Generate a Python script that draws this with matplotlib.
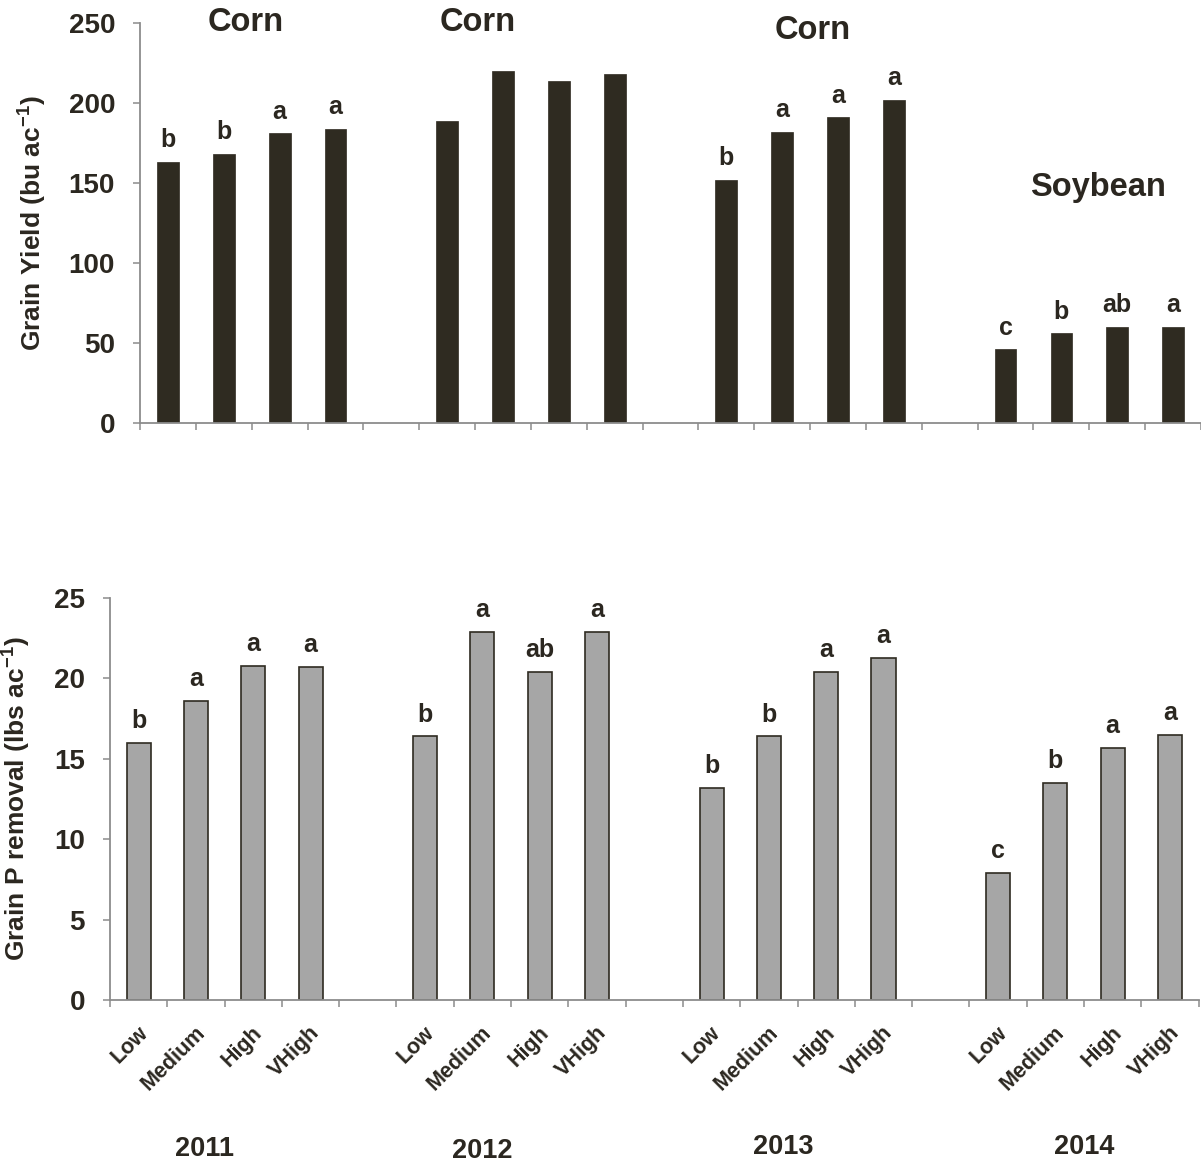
import matplotlib
matplotlib.use("Agg")
import matplotlib.pyplot as plt

plt.rcParams['font.family'] = ['Liberation Sans', 'DejaVu Sans']
plt.rcParams['font.weight'] = 'bold'
plt.rcParams['mathtext.fontset'] = 'custom'
plt.rcParams['mathtext.rm'] = 'Liberation Sans:bold'
plt.rcParams['mathtext.default'] = 'rm'

# data
years = ['2011', '2012', '2013', '2014']
levels = ['Low', 'Medium', 'High', 'VHigh']
crops = ['Corn', 'Corn', 'Corn', 'Soybean']

yield_2011 = [163, 168, 181, 184]
yield_2012 = [189, 220, 214, 218]
yield_2013 = [152, 182, 191, 202]
yield_2014 = [46, 56, 60, 60]
yield_letters = ['b', 'b', 'a', 'a', '', '', '', '', 'b', 'a', 'a', 'a', 'c', 'b', 'ab', 'a']

prem_2011 = [16.0, 18.6, 20.8, 20.7]
prem_2012 = [16.4, 22.9, 20.4, 22.9]
prem_2013 = [13.2, 16.4, 20.4, 21.3]
prem_2014 = [7.9, 13.5, 15.7, 16.5]
prem_letters = ['b', 'a', 'a', 'a', 'b', 'a', 'ab', 'a', 'b', 'b', 'a', 'a', 'c', 'b', 'a', 'a']

yields = yield_2011 + yield_2012 + yield_2013 + yield_2014
prem = prem_2011 + prem_2012 + prem_2013 + prem_2014

# four bars per year, one empty slot between years
xpos = [g * 5 + i for g in range(4) for i in range(4)]

TXT = '#2b2720'
DARK = '#2f2b21'
GRAY = '#a6a6a6'
AXC = '#8c8c8c'

fig = plt.figure(figsize=(12.01, 11.66), dpi=100)
ax1 = fig.add_axes([0.1166, 0.6372, 0.8834, 0.3431])
ax2 = fig.add_axes([0.0916, 0.1424, 0.9064, 0.3447])


def style_axis(ax, ymax, step):
    ax.set_xlim(-0.5, 18.5)
    ax.set_ylim(0, ymax)
    ax.set_yticks(range(0, ymax + 1, step))
    ax.set_xticks([x - 0.5 for x in range(20)])
    ax.set_xticklabels([])
    for s in ['top', 'right']:
        ax.spines[s].set_visible(False)
    for s in ['left', 'bottom']:
        ax.spines[s].set_color(AXC)
        ax.spines[s].set_linewidth(1.3)
    ax.tick_params(axis='both', colors=AXC, length=5, width=1.1)
    ax.tick_params(axis='y', labelcolor=TXT, labelsize=20, pad=13)
    for t in ax.get_yticklabels():
        t.set_fontweight('bold')


# grain yield
ax1.bar(xpos, yields, width=0.39, color=DARK, edgecolor=DARK, linewidth=0.5)
style_axis(ax1, 250, 50)
ax1.set_ylabel(r'Grain Yield (bu ac$^{-1}$)', fontsize=19, fontweight='bold',
               color=TXT, labelpad=14)
for x, v, s in zip(xpos, yields, yield_letters):
    if s:
        ax1.annotate(s, (x, v), xytext=(0, 7), textcoords='offset points',
                     ha='center', va='bottom', fontsize=18, fontweight='bold', color=TXT)

crop_x = [1.4, 5.55, 11.55, 16.65]
crop_y = [250, 250, 245, 147]
for cx, cy, c in zip(crop_x, crop_y, crops):
    ax1.text(cx, cy, c, ha='center', va='center', fontsize=23.5,
             fontweight='bold', color=TXT, clip_on=False)

# grain P removal
ax2.bar(xpos, prem, width=0.42, color=GRAY, edgecolor=DARK, linewidth=1.2)
style_axis(ax2, 25, 5)
ax2.set_ylabel(r'Grain P removal (lbs ac$^{-1}$)', fontsize=19, fontweight='bold',
               color=TXT, labelpad=15)
for x, v, s in zip(xpos, prem, prem_letters):
    ax2.annotate(s, (x, v), xytext=(0, 7), textcoords='offset points',
                 ha='center', va='bottom', fontsize=18, fontweight='bold', color=TXT)

for x, lab in zip(xpos, levels * 4):
    ax2.annotate(lab, (x, 0), xytext=(-1, -16), textcoords='offset points',
                 rotation=45, ha='right', va='top', rotation_mode='anchor',
                 fontsize=15.5, fontweight='bold', color=TXT, annotation_clip=False)

year_x = [1.15, 6.0, 11.25, 16.5]
year_dy = [-107, -109, -106, -106]
for yx, dy, yr in zip(year_x, year_dy, years):
    ax2.annotate(yr, (yx, 0), xytext=(0, dy), textcoords='offset points',
                 ha='center', va='center', fontsize=19.5, fontweight='bold',
                 color=TXT, annotation_clip=False)

fig.savefig('out.png', dpi=100)
